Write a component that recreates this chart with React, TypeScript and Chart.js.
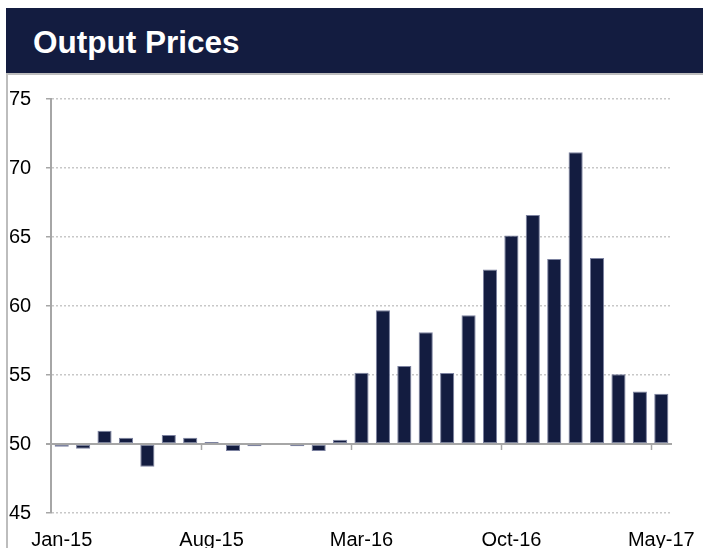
import React, { useEffect, useRef } from 'react';
import { Chart, registerables } from 'chart.js';

Chart.register(...registerables);

const categories = [
  'Jan-15', 'Feb-15', 'Mar-15', 'Apr-15', 'May-15', 'Jun-15', 'Jul-15', 'Aug-15', 'Sep-15', 'Oct-15', 'Nov-15', 'Dec-15',
  'Jan-16', 'Feb-16', 'Mar-16', 'Apr-16', 'May-16', 'Jun-16', 'Jul-16', 'Aug-16', 'Sep-16', 'Oct-16', 'Nov-16', 'Dec-16',
  'Jan-17', 'Feb-17', 'Mar-17', 'Apr-17', 'May-17',
];

const values = [
  49.8, 49.65, 50.96, 50.46, 48.35, 50.65, 50.46, 50.15, 49.5, 49.83, 50.0, 49.83,
  49.5, 50.3, 55.17, 59.7, 55.65, 58.1, 55.15, 59.33, 62.65, 65.1, 66.6, 63.4,
  71.15, 63.47, 55.05, 53.8, 53.65,
];

const yMin = 45;
const yMax = 75;
const yStep = 5;
const axisCross = 50;
const labelEvery = 7;
const title = 'Output Prices';

const NAVY = '#131c40';
const AXIS = '#a6a6a6';

const axisAtCrossPlugin = {
  id: 'axisAtCross',
  afterDatasetsDraw(chart: any) {
    const { ctx, chartArea, scales } = chart;
    const x = scales.x;
    const y = scales.y;
    const yp = Math.round(y.getPixelForValue(axisCross));
    ctx.save();
    ctx.strokeStyle = AXIS;
    ctx.lineWidth = 2;
    ctx.beginPath();
    ctx.moveTo(chartArea.left - 5, yp);
    ctx.lineTo(chartArea.right, yp);
    ctx.stroke();
    ctx.lineWidth = 1.5;
    for (let i = labelEvery; i < categories.length; i += labelEvery) {
      const xp = Math.round((x.getPixelForValue(i - 1) + x.getPixelForValue(i)) / 2) + 0.5;
      ctx.beginPath();
      ctx.moveTo(xp, yp);
      ctx.lineTo(xp, yp + 6);
      ctx.stroke();
    }
    ctx.restore();
  },
};

const solidYAxisPlugin = {
  id: 'solidYAxis',
  afterDraw(chart: any) {
    const { ctx, chartArea } = chart;
    const xp = Math.round(chartArea.left);
    ctx.save();
    ctx.strokeStyle = AXIS;
    ctx.lineWidth = 2;
    ctx.setLineDash([]);
    ctx.beginPath();
    ctx.moveTo(xp, chartArea.top);
    ctx.lineTo(xp, chartArea.bottom);
    ctx.stroke();
    ctx.restore();
  },
};

export default function App() {
  const ref = useRef<HTMLCanvasElement | null>(null);

  useEffect(() => {
    if (!ref.current) return;
    const chart = new Chart(ref.current, {
      type: 'bar',
      data: {
        labels: categories,
        datasets: [
          {
            data: values,
            base: axisCross,
            backgroundColor: NAVY,
            borderColor: 'rgba(110,116,150,0.9)',
            borderWidth: 1,
            borderSkipped: false,
            barPercentage: 0.66,
            categoryPercentage: 1,
          } as any,
        ],
      },
      options: {
        responsive: false,
        animation: false,
        devicePixelRatio: 1,
        layout: { padding: { left: 9, top: 99, right: 31, bottom: 0 } },
        plugins: { legend: { display: false }, tooltip: { enabled: false }, title: { display: false } },
        scales: {
          x: {
            grid: { display: false, drawTicks: true, tickLength: 15 },
            border: { display: false },
            ticks: {
              autoSkip: false,
              maxRotation: 0,
              minRotation: 0,
              padding: 0,
              color: '#000',
              font: { family: '"Liberation Sans", Arial, sans-serif', size: 20 },
              callback: (_v: any, i: number) => (i % labelEvery === 0 ? categories[i] : ''),
            },
            afterFit: (s: any) => {
              s.height = 35;
            },
          },
          y: {
            min: yMin,
            max: yMax,
            ticks: {
              stepSize: yStep,
              crossAlign: 'far',
              padding: 4,
              color: '#000',
              font: { family: '"Liberation Sans", Arial, sans-serif', size: 20 },
            },
            grid: {
              color: '#c8c8c8',
              lineWidth: 1.5,
              tickColor: AXIS,
              tickLength: 5,
              tickBorderDash: [],
            },
            border: { display: true, color: AXIS, width: 2, dash: [2, 2] },
            afterFit: (s: any) => {
              s.width = 42;
            },
          } as any,
        },
      },
      plugins: [axisAtCrossPlugin, solidYAxisPlugin],
    });
    return () => chart.destroy();
  }, []);

  return (
    <div style={{ position: 'absolute', left: 0, top: 0, width: 703, height: 548, background: '#fff', overflow: 'hidden' }}>
      <div
        style={{
          position: 'absolute',
          left: 6,
          top: 73,
          width: 697,
          height: 475,
          borderLeft: '2px solid #bdbdbd',
          borderTop: '2px solid #bdbdbd',
          boxSizing: 'border-box',
        }}
      />
      <canvas ref={ref} width={703} height={548} style={{ position: 'absolute', left: 0, top: 0, width: 703, height: 548 }} />
      <div
        style={{
          position: 'absolute',
          left: 6,
          top: 8,
          width: 697,
          height: 65,
          background: NAVY,
        }}
      >
        <span
          style={{
            position: 'absolute',
            left: 27,
            top: 19,
            color: '#fff',
            fontFamily: '"Liberation Sans", Arial, sans-serif',
            fontWeight: 'bold',
            fontSize: 31.5,
            lineHeight: '30px',
            whiteSpace: 'nowrap',
          }}
        >
          {title}
        </span>
      </div>
    </div>
  );
}
